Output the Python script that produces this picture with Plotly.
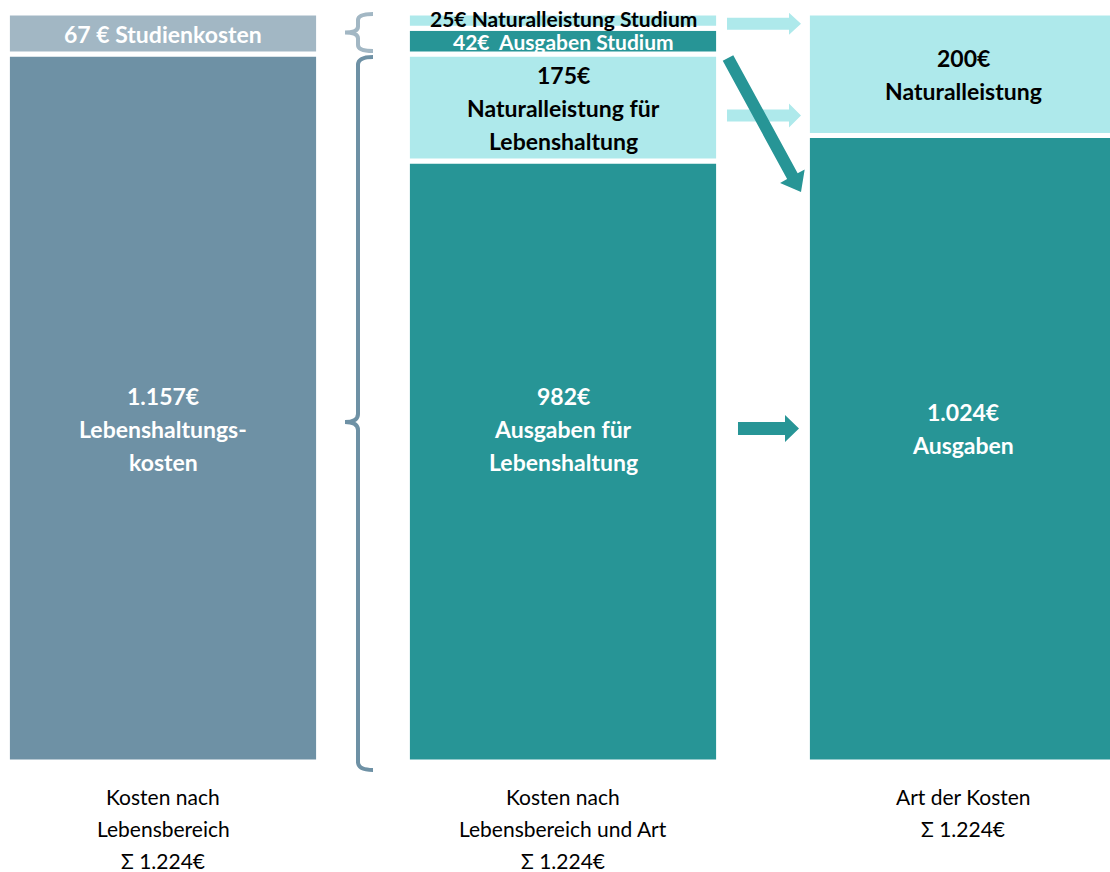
import math
import plotly.graph_objects as go

# ---------------- data ----------------
columns = [0, 1, 2]
total = 1224

col1_values = [1157, 67]
col1_names = ["Lebenshaltungskosten", "Studienkosten"]
col1_labels = [["1.157€", "Lebenshaltungs-", "kosten"], ["67 € Studienkosten"]]

col2_values = [982, 175, 42, 25]
col2_names = ["Ausgaben für Lebenshaltung", "Naturalleistung für Lebenshaltung",
              "Ausgaben Studium", "Naturalleistung Studium"]
col2_labels = [["982€", "Ausgaben für", "Lebenshaltung"],
               ["175€", "Naturalleistung für", "Lebenshaltung"],
               ["42€\u00a0 Ausgaben Studium"],
               ["25€ Naturalleistung Studium"]]

col3_values = [1024, 200]
col3_names = ["Ausgaben", "Naturalleistung"]
col3_labels = [["1.024€", "Ausgaben"], ["200€", "Naturalleistung"]]

bottom_labels = [["Kosten nach", "Lebensbereich", "Σ 1.224€"],
                 ["Kosten nach", "Lebensbereich und Art", "Σ 1.224€"],
                 ["Art der Kosten", "Σ 1.224€"]]

# ---------------- style ----------------
SLATE = "#6E91A5"
SLATE_LIGHT = "#A2B7C4"
TEAL = "#279596"
CYAN = "#AEE9EB"
FONT = "Lato"

col1_colors = [SLATE, SLATE_LIGHT]
col2_colors = [TEAL, CYAN, TEAL, CYAN]
col3_colors = [TEAL, CYAN]
col1_text = ["white", "white"]
col2_text = ["white", "black", "white", "black"]
col3_text = ["white", "black"]

W, H = 1110, 872
M_T, M_B = 13, 110
PLOT_H = H - M_T - M_B
BAR_W = 0.778
X_RANGE = [-0.4075, 2.3675]
BIG_LEVEL = 545     # vertical anchor for labels of the large segments
LINE_GAP = 33

fig = go.Figure()

stacks = [
    (columns[0], col1_values, col1_names, col1_colors, col1_labels, col1_text),
    (columns[1], col2_values, col2_names, col2_colors, col2_labels, col2_text),
    (columns[2], col3_values, col3_names, col3_colors, col3_labels, col3_text),
]

annotations = []
for xc, vals, names, colors, labels, tcols in stacks:
    base = 0
    for v, n, c, lab, tc in zip(vals, names, colors, labels, tcols):
        fig.add_trace(go.Bar(
            x=[xc], y=[v], base=[base], name=n, width=BAR_W,
            marker=dict(color=c, line=dict(color="white", width=5)),
            hoverinfo="name+y", showlegend=False,
        ))
        center = base + v / 2
        yref_val = BIG_LEVEL if v > 500 else center
        n_lines = len(lab)
        small = v < 60
        fsize = 21 if small else 23
        extra = 0
        if small and base + v >= total:
            extra = 2
        for i, line in enumerate(lab):
            off = ((n_lines - 1) / 2 - i) * LINE_GAP + extra
            annotations.append(dict(
                x=xc, y=yref_val, xref="x", yref="y", text=f"<b>{line}</b>",
                showarrow=False, yshift=off, xanchor="center", yanchor="middle",
                font=dict(family=FONT, size=fsize, color=tc),
            ))
        base += v

# bottom category labels
for xc, lines in zip(columns, bottom_labels):
    for i, line in enumerate(lines):
        py = 796 + i * 32
        annotations.append(dict(
            x=xc, y=(H - M_B - py) / PLOT_H, xref="x", yref="paper", text=line,
            showarrow=False, xanchor="center", yanchor="middle",
            font=dict(family=FONT, size=21, color="black"),
        ))


# ---------------- decorations (braces, arrows) ----------------
def px2paper(px, py):
    return px / W, (H - M_B - py) / PLOT_H


def data2px(v):
    return H - M_B - v / total * PLOT_H


def poly_path(points):
    pts = [px2paper(x, y) for x, y in points]
    return "M " + " L ".join(f"{x:.5f},{y:.5f}" for x, y in pts) + " Z"


def arrow(x0, y0, x1, y1, shaft, head_w, head_l):
    dx, dy = x1 - x0, y1 - y0
    L = math.hypot(dx, dy)
    ux, uy = dx / L, dy / L
    nx, ny = -uy, ux
    bx, by = x1 - ux * head_l, y1 - uy * head_l
    s, h = shaft / 2, head_w / 2
    return [
        (x0 + nx * s, y0 + ny * s), (bx + nx * s, by + ny * s),
        (bx + nx * h, by + ny * h), (x1, y1),
        (bx - nx * h, by - ny * h), (bx - nx * s, by - ny * s),
        (x0 - nx * s, y0 - ny * s),
    ]


shapes = []
y25 = data2px(col2_values[0] + col2_values[1] + col2_values[2] + col2_values[3] / 2) + 3
y175 = data2px(col2_values[0] + col2_values[1] / 2) + 8
y_big = data2px(BIG_LEVEL)
for pts, col in [
    (arrow(727, y25, 801, y25, 12, 22, 12), CYAN),
    (arrow(727, y175, 801, y175, 12, 24, 12), CYAN),
    (arrow(738, y_big, 799, y_big, 13, 27, 14), TEAL),
    (arrow(728, 58, 801, 192, 12, 28, 18), TEAL),
]:
    shapes.append(dict(type="path", xref="paper", yref="paper", path=poly_path(pts),
                       fillcolor=col, line=dict(width=0), layer="above"))


def brace(top, bottom, tip, xr=373, xv=358, xt=345, r=8):
    p = [
        ("M", [(xr, top)]),
        ("Q", [(xv, top), (xv, top + r)]),
        ("L", [(xv, tip - r)]),
        ("Q", [(xv, tip), (xt, tip)]),
        ("Q", [(xv, tip), (xv, tip + r)]),
        ("L", [(xv, bottom - r)]),
        ("Q", [(xv, bottom), (xr, bottom)]),
    ]
    out = []
    for cmd, pts in p:
        coords = []
        for x, y in pts:
            X, Y = px2paper(x, y)
            coords.append(f"{X:.5f},{Y:.5f}")
        out.append(cmd + " " + " ".join(coords))
    return " ".join(out)


top1 = data2px(total) + 1
bot1 = data2px(col1_values[0]) - 3
shapes.append(dict(type="path", xref="paper", yref="paper",
                   path=brace(top1, bot1, (top1 + bot1) / 2, r=6),
                   line=dict(color=SLATE_LIGHT, width=4)))
top2 = data2px(col1_values[0]) + 3
bot2 = data2px(0) + 8
shapes.append(dict(type="path", xref="paper", yref="paper",
                   path=brace(top2, bot2, 422),
                   line=dict(color=SLATE, width=4)))

fig.update_layout(
    width=W, height=H,
    margin=dict(l=0, r=0, t=M_T, b=M_B, pad=0),
    barmode="overlay",
    plot_bgcolor="white", paper_bgcolor="white",
    xaxis=dict(range=X_RANGE, visible=False, fixedrange=True),
    yaxis=dict(range=[0, total], visible=False, fixedrange=True),
    annotations=annotations,
    shapes=shapes,
    showlegend=False,
)

fig.write_html("out.html", config={"displayModeBar": False},
               post_script="document.body.style.margin='0';")
